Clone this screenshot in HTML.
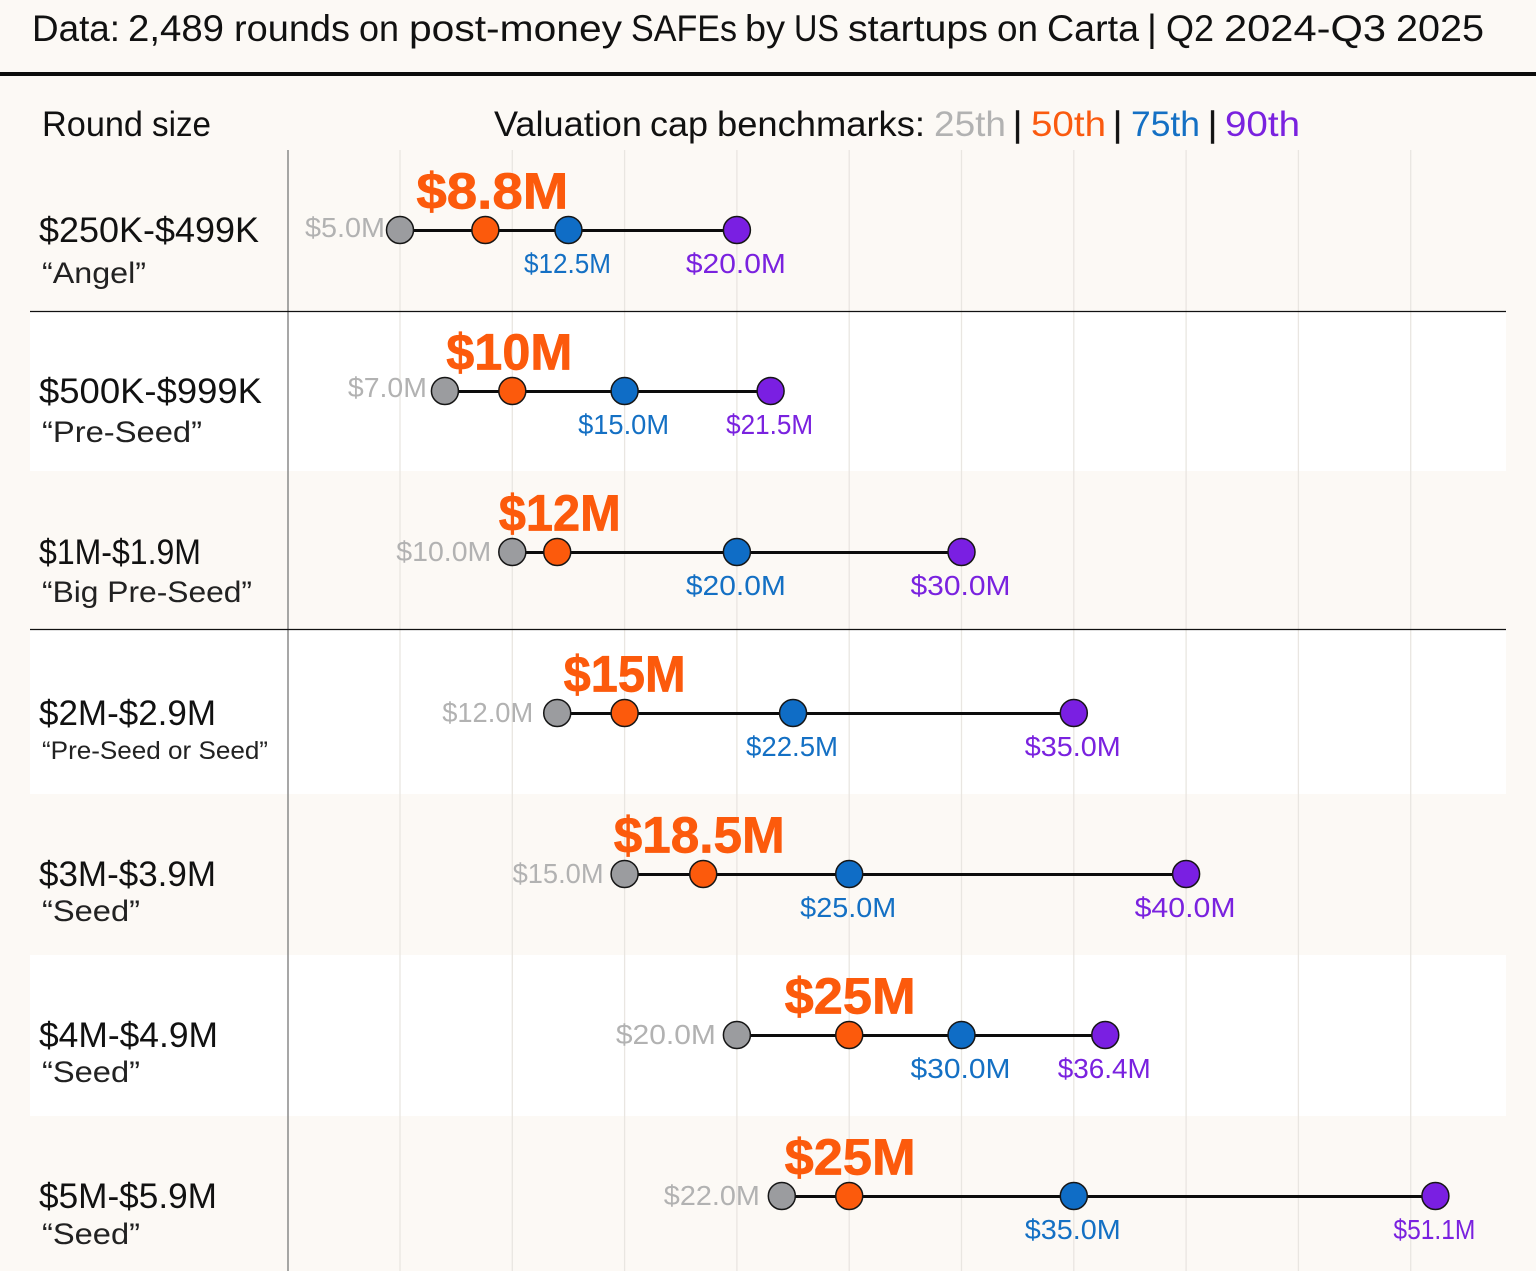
<!DOCTYPE html>
<html lang="en">
<head>
<meta charset="utf-8">
<title>Valuation cap benchmarks by round size</title>
<style>
html,body{margin:0;padding:0;background:#fcf9f5;width:1536px;height:1271px;overflow:hidden}
svg{display:block;font-family:"Liberation Sans",sans-serif}
</style>
</head>
<body>
<svg id="chart" xmlns="http://www.w3.org/2000/svg" width="1536" height="1271" viewBox="0 0 1536 1271">
  <rect x="0" y="0" width="1536" height="1271" fill="#fcf9f5"/>
  <g id="bands">
    <rect x="30" y="312" width="1476" height="159" fill="#ffffff"/>
    <rect x="30" y="630" width="1476" height="164" fill="#ffffff"/>
    <rect x="30" y="955" width="1476" height="161" fill="#ffffff"/>
  </g>
  <text y="41" font-size="37" fill="#111"><tspan x="32" textLength="88" lengthAdjust="spacingAndGlyphs">Data:</tspan> <tspan x="128" textLength="96" lengthAdjust="spacingAndGlyphs">2,489</tspan> <tspan x="234" textLength="116" lengthAdjust="spacingAndGlyphs">rounds</tspan> <tspan x="359" textLength="40" lengthAdjust="spacingAndGlyphs">on</tspan> <tspan x="409" textLength="213" lengthAdjust="spacingAndGlyphs">post-money</tspan> <tspan x="631" textLength="106" lengthAdjust="spacingAndGlyphs">SAFEs</tspan> <tspan x="745" textLength="40" lengthAdjust="spacingAndGlyphs">by</tspan> <tspan x="794" textLength="45" lengthAdjust="spacingAndGlyphs">US</tspan> <tspan x="848" textLength="140" lengthAdjust="spacingAndGlyphs">startups</tspan> <tspan x="997" textLength="41" lengthAdjust="spacingAndGlyphs">on</tspan> <tspan x="1047" textLength="92" lengthAdjust="spacingAndGlyphs">Carta</tspan> <tspan x="1147" font-size="38">|</tspan> <tspan x="1166" textLength="48" lengthAdjust="spacingAndGlyphs">Q2</tspan> <tspan x="1224" textLength="162" lengthAdjust="spacingAndGlyphs">2024-Q3</tspan> <tspan x="1396" textLength="88" lengthAdjust="spacingAndGlyphs">2025</tspan></text>
  <rect x="0" y="72" width="1536" height="4" fill="#0c0c0c"/>
  <text y="136" font-size="35" fill="#111"><tspan x="42" textLength="101" lengthAdjust="spacingAndGlyphs">Round</tspan> <tspan x="152" textLength="59" lengthAdjust="spacingAndGlyphs">size</tspan></text>
  <g font-size="35">
    <text y="136" fill="#111"><tspan x="494" textLength="148" lengthAdjust="spacingAndGlyphs">Valuation</tspan> <tspan x="650" textLength="58" lengthAdjust="spacingAndGlyphs">cap</tspan> <tspan x="717" textLength="208" lengthAdjust="spacingAndGlyphs">benchmarks:</tspan></text>
    <text x="934" y="136" fill="#b2b2b2" textLength="72" lengthAdjust="spacingAndGlyphs">25th</text>
    <text x="1013" y="136" fill="#111" stroke="#111" stroke-width="0.5">|</text>
    <text x="1031" y="136" fill="#fa5a0f" textLength="75" lengthAdjust="spacingAndGlyphs">50th</text>
    <text x="1113" y="136" fill="#111" stroke="#111" stroke-width="0.5">|</text>
    <text x="1131" y="136" fill="#1470c4" textLength="69" lengthAdjust="spacingAndGlyphs">75th</text>
    <text x="1208" y="136" fill="#111" stroke="#111" stroke-width="0.5">|</text>
    <text x="1225" y="136" fill="#7a22df" textLength="75" lengthAdjust="spacingAndGlyphs">90th</text>
  </g>
  <g id="grid"></g>
  <line x1="288" y1="150" x2="288" y2="1271" stroke="#8a8a8a" stroke-width="1.5"/>
  <line x1="30" y1="311.5" x2="1506" y2="311.5" stroke="#111" stroke-width="1.2"/>
  <line x1="30" y1="629.5" x2="1506" y2="629.5" stroke="#111" stroke-width="1.2"/>
  <g id="rows"></g>
</svg>
<script>
const roundSizes = ['$250K-$499K','$500K-$999K','$1M-$1.9M','$2M-$2.9M','$3M-$3.9M','$4M-$4.9M','$5M-$5.9M'];
const stageNames = ['“Angel”','“Pre-Seed”','“Big Pre-Seed”','“Pre-Seed or Seed”','“Seed”','“Seed”','“Seed”'];
const p25 = [5, 7, 10, 12, 15, 20, 22];
const p50 = [8.8, 10, 12, 15, 18.5, 25, 25];
const p75 = [12.5, 15, 20, 22.5, 25, 30, 35];
const p90 = [20, 21.5, 30, 35, 40, 36.4, 51.1];
const p25Labels = ['$5.0M','$7.0M','$10.0M','$12.0M','$15.0M','$20.0M','$22.0M'];
const p50Labels = ['$8.8M','$10M','$12M','$15M','$18.5M','$25M','$25M'];
const p75Labels = ['$12.5M','$15.0M','$20.0M','$22.5M','$25.0M','$30.0M','$35.0M'];
const p90Labels = ['$20.0M','$21.5M','$30.0M','$35.0M','$40.0M','$36.4M','$51.1M'];
const gridTicks = [5,10,15,20,25,30,35,40,45,50];

const NS = 'http://www.w3.org/2000/svg';
const xAxis = v => 400 + (v - 5) * 22.46;
const yAxis = i => 230 + i * 161;
const regularGlyphs = {'$':15,'0':20,'1':11,'2':16,'3':16,'4':17,'5':16,'6':16,'7':15,'8':17,'9':17,'.':7,'M':22};
const boldGlyphs = {'$':29,'0':34,'1':21,'2':30,'3':30,'4':31,'5':30,'6':31,'7':28,'8':32,'9':31,'.':17,'M':42};
const textWidth = (s, table) => [...s].reduce((sum, ch) => sum + (table[ch] || 16), 0);
const sizeLabelWidth = [220, 223, 162, 177, 177, 179, 178];
const stageLabelWidth = [104, 160, 210, 226, 98, 98, 98];
const stageLabelDrop = [53, 51, 50, 46, 47, 47, 48];
const grayLabelGap = [15, 18, 21, 24, 21, 21, 22];
const grayLabelDrop = [7, 6, 9, 9, 9, 9, 9];
const topLabelNudge = [7, -3, 2.5, 0, -4, 1, 1];

const make = (tag, attrs, parent, text) => {
  const el = document.createElementNS(NS, tag);
  for (const k in attrs) el.setAttribute(k, attrs[k]);
  if (text !== undefined) el.textContent = text;
  parent.appendChild(el);
  return el;
};
const grid = document.getElementById('grid');
gridTicks.forEach(t => {
  const gl = make('line', {x1: xAxis(t), x2: xAxis(t), y1: 150, y2: 1271, stroke: '#e9e6e1', 'stroke-width': 1.3}, grid);
  
  
});
const rows = document.getElementById('rows');
const COLORS = {p25: '#9b9c9f', p50: '#fc5a0c', p75: '#0f6dc6', p90: '#7a1fe2'};
roundSizes.forEach((size, i) => {
  const cy = yAxis(i);
  const g = make('g', {}, rows);
  
  

  const sizeLabel = make('text', {x: 39, y: cy + 12, 'font-size': 35, fill: '#111', textLength: sizeLabelWidth[i], lengthAdjust: 'spacingAndGlyphs'}, g, size);
  
  

  const stage = make('text', {x: 42, y: cy + stageLabelDrop[i], 'font-size': i === 3 ? 25 : 30, fill: '#222', textLength: stageLabelWidth[i], lengthAdjust: 'spacingAndGlyphs'}, g, stageNames[i]);
  
  

  const line = make('line', {x1: xAxis(p25[i]), x2: xAxis(p90[i]), y1: cy + 0.5, y2: cy + 0.5, stroke: '#0c0c0c', 'stroke-width': 3}, g);
  
  

  [['p25', p25], ['p50', p50], ['p75', p75], ['p90', p90]].forEach(([key, arr]) => {
    const c = make('circle', {cx: xAxis(arr[i]), cy: cy, r: 13.5, fill: COLORS[key], stroke: '#161616', 'stroke-width': 1.5}, g);
    
    
  });

  const l25 = make('text', {x: xAxis(p25[i]) - grayLabelGap[i], y: cy + grayLabelDrop[i], 'font-size': 28, fill: '#b2b2b2', 'text-anchor': 'end', textLength: textWidth(p25Labels[i], regularGlyphs), lengthAdjust: 'spacingAndGlyphs'}, g, p25Labels[i]);
  
  

  const l50 = make('text', {x: xAxis(p50[i]) + topLabelNudge[i], y: cy - 21.5, 'font-size': 51, 'font-weight': 700, fill: '#fc5a0c', stroke: '#fc5a0c', 'stroke-width': 0.7, 'text-anchor': 'middle', textLength: textWidth(p50Labels[i], boldGlyphs), lengthAdjust: 'spacingAndGlyphs'}, g, p50Labels[i]);
  
  

  const l75 = make('text', {x: xAxis(p75[i]) - 1, y: cy + 43, 'font-size': 28, fill: '#1470c4', 'text-anchor': 'middle', textLength: textWidth(p75Labels[i], regularGlyphs), lengthAdjust: 'spacingAndGlyphs'}, g, p75Labels[i]);
  
  

  const l90 = make('text', {x: xAxis(p90[i]) - 1, y: cy + 43, 'font-size': 28, fill: '#7a22df', 'text-anchor': 'middle', textLength: textWidth(p90Labels[i], regularGlyphs), lengthAdjust: 'spacingAndGlyphs'}, g, p90Labels[i]);
  
  
});
</script>
</body>
</html>
